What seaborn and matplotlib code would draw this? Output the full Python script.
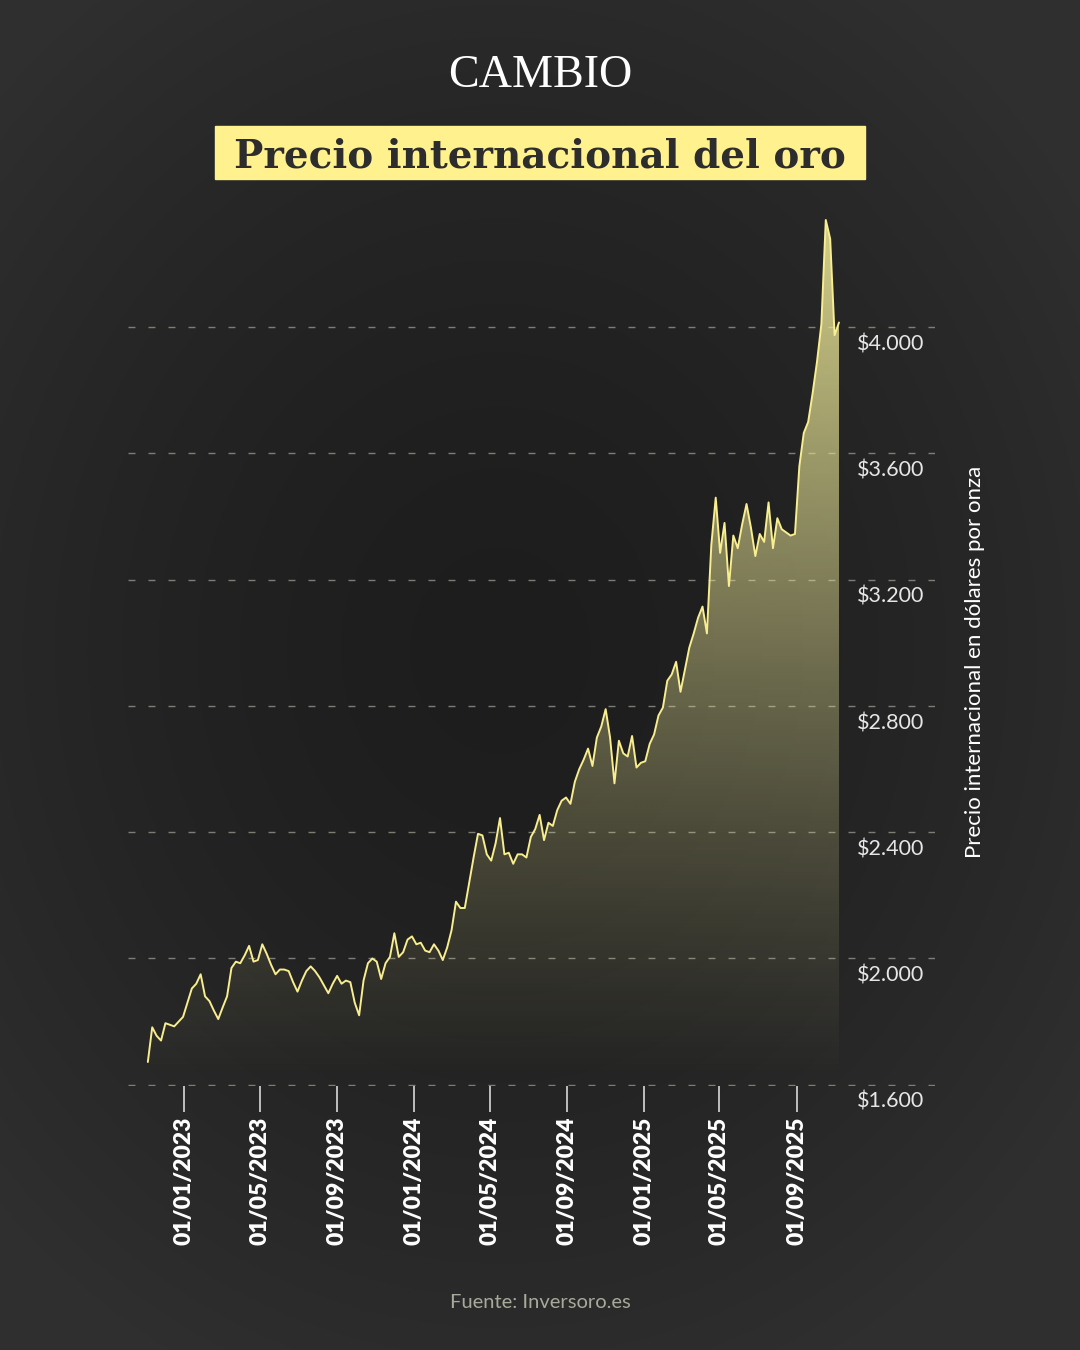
import numpy as np
import pandas as pd
import matplotlib
matplotlib.use("Agg")
import matplotlib.pyplot as plt
import matplotlib.dates as mdates
import matplotlib.transforms as mtransforms
from matplotlib.patches import Rectangle
import seaborn as sns

# precio semanal del oro (USD/onza), viernes desde 04/11/2022
FIRST_WEEK = "2022-11-04"
PRICES_2022 = [1672, 1782, 1755, 1740, 1795, 1790, 1785, 1800, 1815]
PRICES_2023 = [1860, 1905, 1920, 1950, 1880, 1865, 1835, 1808, 1845, 1880,
               1970, 1990, 1985, 2010, 2040, 1990, 1995, 2045, 2015, 1980,
               1950, 1965, 1965, 1960, 1925, 1895, 1930, 1960, 1975, 1960,
               1940, 1915, 1890, 1920, 1945, 1920, 1930, 1925, 1860, 1820,
               1930, 1985, 2000, 1990, 1935, 1985, 2005, 2080, 2005, 2020,
               2060, 2070]
PRICES_2024 = [2045, 2050, 2025, 2020, 2045, 2025, 1995, 2035, 2090, 2180,
               2160, 2160, 2240, 2320, 2395, 2390, 2330, 2310, 2365, 2445,
               2330, 2335, 2300, 2330, 2330, 2320, 2385, 2410, 2455, 2375,
               2430, 2420, 2470, 2500, 2510, 2490, 2560, 2600, 2630, 2665,
               2610, 2700, 2735, 2790, 2700, 2555, 2690, 2650, 2640, 2705,
               2605, 2620]
PRICES_2025 = [2625, 2680, 2710, 2770, 2795, 2880, 2900, 2940, 2845, 2915,
               2985, 3030, 3080, 3115, 3030, 3310, 3460, 3285, 3380, 3180,
               3340, 3300, 3375, 3440, 3365, 3275, 3345, 3320, 3445, 3300,
               3395, 3360, 3350, 3340, 3345, 3560, 3665, 3700, 3790, 3890,
               4010, 4340, 4280, 3975, 4015]

Y_TICKS = [1600, 2000, 2400, 2800, 3200, 3600, 4000]
X_TICKS = ["2023-01-01", "2023-05-01", "2023-09-01", "2024-01-01", "2024-05-01",
           "2024-09-01", "2025-01-01", "2025-05-01", "2025-09-01"]
X_LABELS = ["01/01/2023", "01/05/2023", "01/09/2023", "01/01/2024", "01/05/2024",
            "01/09/2024", "01/01/2025", "01/05/2025", "01/09/2025"]

prices = PRICES_2022 + PRICES_2023 + PRICES_2024 + PRICES_2025
df = pd.DataFrame({
    "fecha": pd.date_range(FIRST_WEEK, periods=len(prices), freq="W-FRI"),
    "precio": prices,
})

LINE = "#f8ed8f"
BOX = "#fff18d"

sns.set_theme(style="dark")
plt.rcParams["font.family"] = ["Lato", "DejaVu Sans"]

W, H = 1080, 1350
fig = plt.figure(figsize=(W / 100, H / 100), dpi=100)
fig.patch.set_facecolor("#262626")

# fondo: vineta suave, mas oscuro en el centro
bg = fig.add_axes([0, 0, 1, 1], zorder=0)
yy, xx = np.mgrid[0:H, 0:W]
d = np.sqrt(((xx - 500) / 700) ** 2 + ((yy - 650) / 800) ** 2)
shade = 0.115 + 0.07 * np.clip(d, 0, 1) ** 1.6
bg.imshow(np.dstack([shade, shade, shade]), extent=[0, 1, 0, 1], aspect="auto")
bg.axis("off")

ax = fig.add_axes([128 / W, 1 - 1086 / H, 807 / W, (1086 - 201) / H], zorder=1)
ax.patch.set_alpha(0)

jan23 = mdates.date2num(pd.Timestamp("2023-01-01"))
px_day = 0.6289
xmin = jan23 - (184.3 - 128) / px_day
xmax = jan23 + (935 - 184.3) / px_day
ymin, ymax = 1596, 4400

x_num = mdates.date2num(df["fecha"])
poly = ax.fill_between(x_num, df["precio"], ymin, facecolor="none", edgecolor="none")

# relleno degradado bajo la curva
top = df["precio"].max()
frac = np.linspace(0, 1, 400)
grad = np.zeros((400, 1, 4))
grad[:, 0, 0] = 0.94
grad[:, 0, 1] = 0.92
grad[:, 0, 2] = 0.60
grad[:, 0, 3] = 0.86 * frac ** 1.15
im = ax.imshow(grad, extent=[x_num[0], x_num[-1], ymin, top], origin="lower",
               aspect="auto", zorder=1, interpolation="bilinear")
im.set_clip_path(poly.get_paths()[0], transform=ax.transData)

sns.lineplot(x=x_num, y=df["precio"], ax=ax, color=LINE, lw=1.4, zorder=3)

ax.set_xlim(xmin, xmax)
ax.set_ylim(ymin, ymax)
ax.set_xlabel("")
ax.set_ylabel("")
for s in ax.spines.values():
    s.set_visible(False)

ax.set_yticks(Y_TICKS)
ax.set_yticklabels([])
ax.tick_params(axis="y", length=0)
ax.grid(axis="y", color="#8e8e84", lw=1, ls=(0, (5, 9.4)), alpha=0.85)
ax.grid(axis="x", visible=False)

ax.set_xticks(mdates.date2num(pd.to_datetime(X_TICKS)))
ax.set_xticklabels(X_LABELS, rotation=90, fontsize=16.5, fontweight="heavy", color="white")
ax.tick_params(axis="x", bottom=True, direction="out", length=19, width=1.2,
               color="#d8d8d8", pad=3)

blend = mtransforms.blended_transform_factory(ax.transAxes, ax.transData)
for v in Y_TICKS:
    lab = "$" + f"{v:,}".replace(",", ".")
    ax.annotate(lab, xy=((857 - 128) / 807, v), xycoords=blend, xytext=(0, -12.3),
                textcoords="offset points", ha="left", va="center",
                fontsize=15.5, color="#e6e6e6")

fig.text(975 / W, 1 - 662 / H, "Precio internacional en dólares por onza",
         rotation=90, ha="center", va="center", fontsize=16, color="white")

fig.text(0.5, 1 - 1302 / H, "Fuente: Inversoro.es", ha="center", va="center",
         fontsize=14.5, color="#a9a99b")

# cabecera
fig.add_artist(Rectangle((215 / W, 1 - 179 / H), 650 / W, 53 / H,
                         transform=fig.transFigure, color=BOX, zorder=2))
title = fig.text(0.5, 1 - 167 / H, "Precio internacional del oro", ha="center",
                 va="baseline", fontsize=30, fontweight="bold", color="#2d2d2d",
                 family=["DejaVu Serif"], zorder=3)
brand = fig.text(0.5, 1 - 87 / H, "CAMBIO", ha="center", va="baseline",
                 fontsize=36, color="white", family=["Liberation Serif", "DejaVu Serif"])

renderer = fig.canvas.get_renderer()
for t, target in [(title, 611), (brand, 184)]:
    w = t.get_window_extent(renderer).width
    t.set_fontsize(t.get_fontsize() * target / w)

fig.savefig("out.png", dpi=100, facecolor=fig.get_facecolor())
